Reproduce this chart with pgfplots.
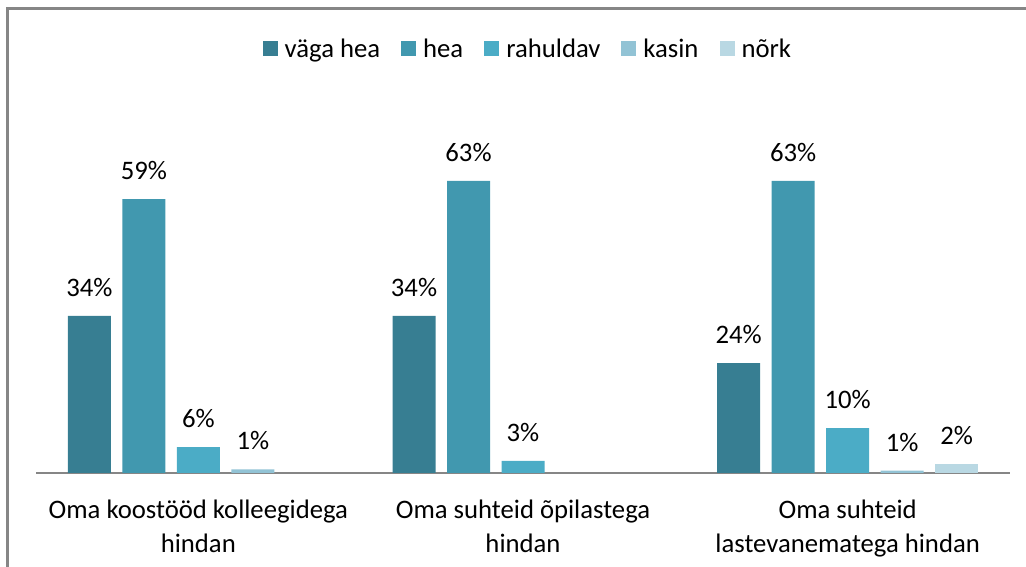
\documentclass[border=0pt]{standalone}
\usepackage{fontspec}
\setmainfont{Carlito}
\usepackage{pgfplots}
\pgfplotsset{compat=1.18}
\definecolor{c1}{RGB}{55,126,146}
\definecolor{c2}{RGB}{65,152,175}
\definecolor{c3}{RGB}{75,172,198}
\definecolor{c4}{RGB}{146,195,213}
\definecolor{c5}{RGB}{185,216,227}
\definecolor{framegray}{RGB}{134,134,134}
\begin{document}
\begin{tikzpicture}[x=1pt,y=1pt]
\useasboundingbox (0,0) rectangle (1026,567);
\draw[line width=2.5pt, color=framegray] (7.5,0) -- (7.5,558.5) -- (1026,558.5);
\begin{axis}[
  at={(36pt,94pt)}, anchor=south west,
  scale only axis, width=974pt, height=370.8pt,
  xmin=-0.5, xmax=2.5, ymin=0, ymax=80,
  axis x line*=bottom, axis y line=none,
  x axis line style={draw=framegray, line width=1.5pt},
  xtick={0,1,2},
  xticklabels={{Oma koostööd kolleegidega\\hindan}, {Oma suhteid õpilastega\\hindan}, {Oma suhteid\\lastevanematega hindan}},
  major tick length=0pt,
  xticklabel style={align=center, font=\fontsize{26.7}{34}\selectfont, inner sep=0pt, yshift=-27pt},
  ytick=\empty,
  ybar, bar width=43pt,
  nodes near coords, point meta=explicit symbolic,
  nodes near coords style={font=\fontsize{26.7}{28}\selectfont, black, inner sep=0pt, yshift=19pt},
  legend style={at={(0.504,1.143)}, anchor=center, draw=none, fill=none, legend columns=-1,
    font=\fontsize{26.7}{28}\selectfont, inner sep=0pt, nodes={inner sep=0pt},
    /tikz/every odd column/.append style={column sep=7pt},
    /tikz/every even column/.append style={column sep=21pt}},
  legend image code/.code={\fill[#1] (0pt,-7pt) rectangle (15pt,8pt);},
]
\addplot[fill=c1, draw=none, bar shift=-109pt] coordinates {(0,33.9)[34\%] (1,33.9)[34\%] (2,23.7)[24\%]};
\addplot[fill=c2, draw=none, bar shift=-54.5pt] coordinates {(0,59.1)[59\%] (1,63)[63\%] (2,63)[63\%]};
\addplot[fill=c3, draw=none, bar shift=0pt] coordinates {(0,5.6)[6\%] (1,2.6)[3\%] (2,9.7)[10\%]};
\addplot[fill=c4, draw=none, bar shift=54.5pt] coordinates {(0,0.8)[1\%] (2,0.5)[1\%]};
\addplot[fill=c5, draw=none, bar shift=109pt] coordinates {(2,1.9)[2\%]};
\legend{väga hea, hea, rahuldav, kasin, nõrk}
\end{axis}
\end{tikzpicture}
\end{document}
